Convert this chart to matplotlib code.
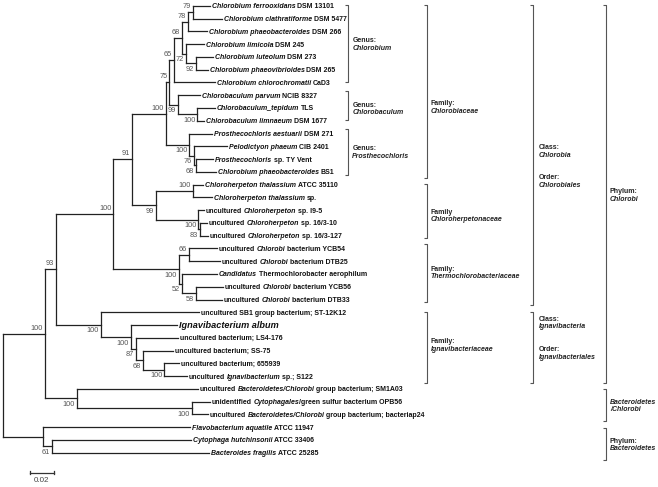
import matplotlib
matplotlib.use("Agg")
import matplotlib.pyplot as plt
from matplotlib.collections import LineCollection

plt.rcParams['font.family'] = ['Liberation Sans', 'DejaVu Sans']

# leaf labels, top to bottom (*...* = italic part)
leaf_names = [
    "*Chlorobium ferrooxidans* DSM 13101",
    "*Chlorobium clathratiforme* DSM 5477",
    "*Chlorobium phaeobacteroides* DSM 266",
    "*Chlorobium limicola* DSM 245",
    "*Chlorobium luteolum* DSM 273",
    "*Chlorobium phaeovibrioides* DSM 265",
    "*Chlorobium chlorochromatii* CaD3",
    "*Chlorobaculum parvum* NCIB 8327",
    "*Chlorobaculum_tepidum* TLS",
    "*Chlorobaculum limnaeum* DSM 1677",
    "*Prosthecochloris aestuarii* DSM 271",
    "*Pelodictyon phaeum* CIB 2401",
    "*Prosthecochloris* sp. TY Vent",
    "*Chlorobium phaeobacteroides* BS1",
    "*Chloroherpeton thalassium* ATCC 35110",
    "*Chloroherpeton thalassium* sp.",
    "uncultured *Chloroherpeton* sp. I9-5",
    "uncultured *Chloroherpeton* sp. 16/3-10",
    "uncultured *Chloroherpeton* sp. 16/3-127",
    "uncultured *Chlorobi* bacterium YCB54",
    "uncultured *Chlorobi* bacterium DTB25",
    "*Candidatus* Thermochlorobacter aerophilum",
    "uncultured *Chlorobi* bacterium YCB56",
    "uncultured *Chlorobi* bacterium DTB33",
    "uncultured SB1 group bacterium; ST-12K12",
    "*Ignavibacterium album*",
    "uncultured bacterium; LS4-176",
    "uncultured bacterium; SS-75",
    "uncultured bacterium; 655939",
    "uncultured *Ignavibacterium* sp.; S122",
    "uncultured *Bacteroidetes/Chlorobi* group bacterium; SM1A03",
    "unidentified *Cytophagales*/green sulfur bacterium OPB56",
    "uncultured *Bacteroidetes/Chlorobi* group bacterium; bacteriap24",
    "*Flavobacterium aquatile* ATCC 11947",
    "*Cytophaga hutchinsonii* ATCC 33406",
    "*Bacteroides fragilis* ATCC 25285",
]
highlight_leaf = 25

# distance from the root to each tip
leaf_depth = [0.1723, 0.1823, 0.1698, 0.1673, 0.1748, 0.1706, 0.1764, 0.1639, 0.1764,
              0.1673, 0.1739, 0.1864, 0.1748, 0.1773, 0.1664, 0.1739, 0.1673, 0.1698,
              0.1706, 0.1781, 0.1806, 0.1781, 0.1831, 0.1823, 0.1631, 0.1448, 0.1456,
              0.1414, 0.1464, 0.1531, 0.1623, 0.1723, 0.1706, 0.1556, 0.1564, 0.1714]

# internal nodes (children are leaf indices or node ids)
node_ids = ['n79', 'n78', 'n92', 'n72', 'n68a', 'n65', 'n100t', 'n99b', 'n75', 'n68p',
            'n76', 'n100p', 'n100c', 'n100th', 'n83', 'n100u', 'n99h', 'n91', 'n66', 'n58',
            'n52', 'n100tc', 'n100cb', 'n100b', 'n68i', 'n87', 'n100a', 'n100i', 'n93',
            'n100o', 'n100bc', 'n100ch', 'n61', 'nbac', 'root']
node_children = [(0, 1), ('n79', 2), (4, 5), (3, 'n92'), ('n78', 'n72'), ('n68a', 6),
                 (8, 9), (7, 'n100t'), ('n65', 'n99b'), (12, 13), (11, 'n68p'), (10, 'n76'),
                 ('n75', 'n100p'), (14, 15), (17, 18), (16, 'n83'), ('n100th', 'n100u'),
                 ('n100c', 'n99h'), (19, 20), (22, 23), (21, 'n58'), ('n66', 'n52'),
                 ('n91', 'n100tc'), (28, 29), (27, 'n100b'), (26, 'n68i'), (25, 'n87'),
                 (24, 'n100a'), ('n100cb', 'n100i'), (31, 32), (30, 'n100o'),
                 ('n93', 'n100bc'), (34, 35), (33, 'n61'), ('n100ch', 'nbac')]
node_depth = [0.1581, 0.1537, 0.1606, 0.1525, 0.1492, 0.1423, 0.1617, 0.1458, 0.1383,
              0.1606, 0.1587, 0.1550, 0.1352, 0.1577, 0.1639, 0.1625, 0.1270, 0.1073,
              0.1548, 0.1603, 0.1492, 0.1464, 0.0918, 0.1342, 0.1162, 0.1106, 0.1064,
              0.0814, 0.0439, 0.1570, 0.0612, 0.0348, 0.0403, 0.0333, 0.0]
bootstrap = ['79', '78', '92', '72', '68', '65', '100', '99', '75', '68', '76', '100', '100',
             '100', '83', '100', '99', '91', '66', '58', '52', '100', '100', '100', '68', '87',
             '100', '100', '93', '100', '100', '100', '61', '', '']
label_side = ['a', 'a', 'b', 'b', 'a', 'a', 'b', 'b', 'a', 'b', 'b', 'b', 'a', 'a', 'b', 'b',
              'b', 'a', 'a', 'b', 'b', 'b', 'a', 'b', 'b', 'b', 'b', 'b', 'a', 'b', 'b', 'a',
              'b', '', '']

# taxonomy brackets: column, first row, last row, text lines, label centre row
bracket_col = [0, 0, 0, 1, 1, 1, 1, 2, 2, 3, 3, 3]
bracket_start = [-0.06, 6.65, 9.67, -0.06, 13.95, 18.65, 23.95, -0.06, 23.95, -0.06, 30.03, 33.09]
bracket_end = [5.99, 8.94, 13.25, 13.46, 18.2, 23.17, 29.5, 23.43, 29.5, 29.5, 32.51, 35.57]
bracket_text = [
    ["Genus:", "*Chlorobium"],
    ["Genus:", "*Chlorobaculum"],
    ["Genus:", "*Prosthecochloris"],
    ["Family:", "*Chlorobiaceae"],
    ["Family", "*Chloroherpetonaceae"],
    ["Family:", "*Thermochlorobacteriaceae"],
    ["Family:", "*Ignavibacteriaceae"],
    ["Class:", "*Chlorobia", "", "", "Order:", "*Chlorobiales"],
    ["Class:", "*Ignavibacteria", "", "", "Order:", "*Ignavibacteriales"],
    ["Phylum:", "*Chlorobi"],
    ["*Bacteroidetes", "*/Chlorobi"],
    ["Phylum:", "*Bacteroidetes"],
]
bracket_label_row = [2.93, 7.99, 11.4, 7.88, 16.37, 20.85, 26.54, 12.5, 25.96, 14.78, 31.26, 34.3]

scale_length = 0.02

# ---- layout (pixel grid of the original picture) ----
W, H = 658, 487
PX = 1 / 1200.0          # branch units per pixel
ROW = 1 / 12.77          # rows per pixel
col_x = [0.2875, 0.3528, 0.4417, 0.5020]
col_pad = [4, 4, 5.5, 4.3]

fig = plt.figure(figsize=(W / 100, H / 100), dpi=100)
ax = fig.add_axes([0, 0, 1, 1])
ax.set_xlim(-3.3 * PX, (W - 3.3) * PX)
ax.set_ylim((H - 5.8) * ROW, -5.8 * ROW)
ax.axis('off')
renderer = fig.canvas.get_renderer()

# node positions
pos_x, pos_y = {}, {}
for i, d in enumerate(leaf_depth):
    pos_x[i], pos_y[i] = d, i
for nid, ch, d in zip(node_ids, node_children, node_depth):
    pos_x[nid] = d
    pos_y[nid] = sum(pos_y[c] for c in ch) / len(ch)

segs = []
for nid, ch in zip(node_ids, node_children):
    x = pos_x[nid]
    ys = [pos_y[c] for c in ch]
    segs.append([(x, min(ys)), (x, max(ys))])
    for c in ch:
        segs.append([(x, pos_y[c]), (pos_x[c], pos_y[c])])
ax.add_collection(LineCollection(segs, colors='#222222', linewidths=0.9, capstyle='projecting'))

# bootstrap values
for nid, b, side in zip(node_ids, bootstrap, label_side):
    if not b:
        continue
    dy = -5.5 * ROW if side == 'a' else 6 * ROW
    ax.text(pos_x[nid] - 2 * PX, pos_y[nid] + dy, b, ha='right', va='center',
            fontsize=5.3, color='#555555')


def rich_text(x, y, label, size, color='#111111'):
    # draw label with *italic* parts, piece by piece
    parts = label.split('*')
    cur = ax.transData.transform((x, 0))[0]
    gap = 0.22 * size * fig.dpi / 72
    base = y + 0.36 * size * fig.dpi / 72 * ROW
    started, prev_space = False, False
    for i, part in enumerate(parts):
        if not part.strip():
            prev_space = prev_space or bool(part)
            continue
        if started and (part.startswith(' ') or prev_space):
            cur += gap
        xd = ax.transData.inverted().transform((cur, 0))[0]
        t = ax.text(xd, base, part.strip(), fontsize=size, fontweight='bold',
                    style='italic' if i % 2 else 'normal', va='baseline', color=color)
        cur = t.get_window_extent(renderer).x1
        started = True
        prev_space = part.endswith(' ')


for i, name in enumerate(leaf_names):
    size = 6.6 if i == highlight_leaf else 5.0
    rich_text(leaf_depth[i] + 2 * PX, i, name, size)

# taxonomy brackets
bsegs = []
for c, y0, y1, lines, yc in zip(bracket_col, bracket_start, bracket_end, bracket_text,
                                bracket_label_row):
    x = col_x[c]
    bsegs += [[(x - 3 * PX, y0), (x, y0), (x, y1), (x - 3 * PX, y1)]]
    step = 7.6 * ROW
    top = yc - step * (len(lines) - 1) / 2
    for k, line in enumerate(lines):
        if line:
            rich_text(x + col_pad[c] * PX, top + k * step, line, 5.0, color='#222222')
ax.add_collection(LineCollection(bsegs, colors='#555555', linewidths=0.8))

# scale bar
sx, sy = 26.7 * PX, (473 - 5.8) * ROW
ax.plot([sx, sx + scale_length], [sy, sy], color='#333333', lw=0.9)
for xx in (sx, sx + scale_length):
    ax.plot([xx, xx], [sy - 2 * ROW, sy + 1 * ROW], color='#333333', lw=0.9)
ax.text(sx + scale_length / 2, sy + 8 * ROW, f"{scale_length:.2f}", ha='center', va='center',
        fontsize=5.8, color='#444444')

fig.savefig("out.png", dpi=100)
